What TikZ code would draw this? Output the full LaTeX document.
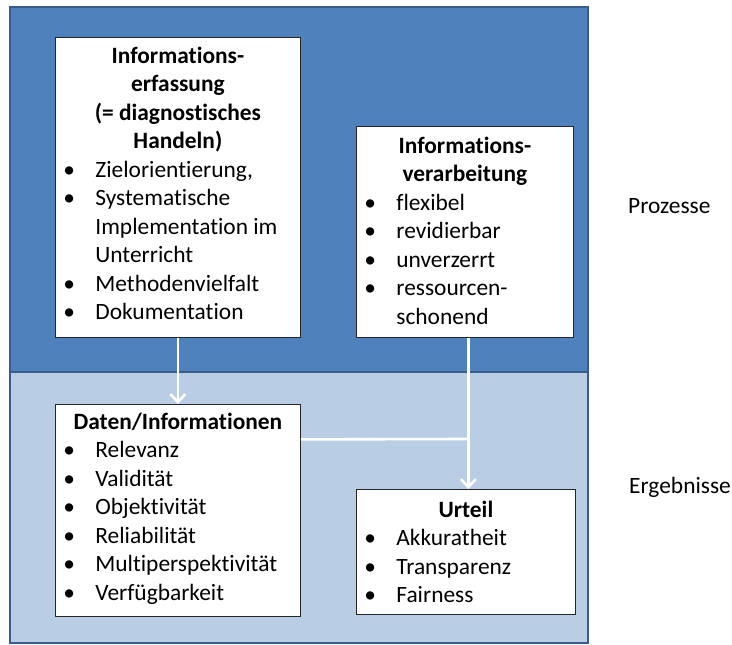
\documentclass[tikz,border=0pt]{standalone}
\usepackage{fontspec}
\setmainfont{Carlito}[Ligatures=NoCommon]
\usetikzlibrary{arrows.meta}
\definecolor{procblue}{HTML}{4F81BD}
\definecolor{resblue}{HTML}{B9CDE5}
\definecolor{frameblue}{HTML}{385D8A}
\newcommand{\bul}[1]{\par\hangindent=40pt\hangafter=1\noindent\hspace*{8pt}\makebox[32pt][l]{\textbullet}#1}
\newcommand{\head}[2]{{\centering\bfseries\rule{0pt}{#1}#2\par}}
\newcommand{\infotext}[3]{\parbox[c][#2][t]{#1}{\raggedright#3}}
\tikzset{
    infobox/.style={draw=black!85, line width=0.8pt, fill=white, inner sep=0pt, anchor=north west},
    flow/.style={white, line width=2.6pt, -{Straight Barb[length=8pt, width=15pt]}},
    flowline/.style={white, line width=2.6pt}
}

\begin{document}
\begin{tikzpicture}[x=1pt, y=-1pt, font=\fontsize{23.4}{28.5}\selectfont]
    \useasboundingbox (0,0) rectangle (732,645);
    \fill[procblue] (10,7) rectangle (588,372);
    \fill[resblue] (10,372) rectangle (588,643);
    \draw[frameblue, line width=1.5pt] (10,7) rectangle (588,372);
    \draw[frameblue, line width=1.5pt] (10,372) rectangle (588,643);
    \node[infobox] (erfassung) at (55,37) {\infotext{245pt}{300pt}{%
        \head{26pt}{Informations-\\erfassung\\(= diagnostisches\\Handeln)}%
        \bul{Zielorientierung,}
        \bul{Systematische\newline Implementation im\newline Unterricht}
        \bul{Methodenvielfalt}
        \bul{Dokumentation}}};
    \node[infobox] (verarbeitung) at (356,126) {\infotext{217pt}{211pt}{%
        \head{27pt}{Informations-\\verarbeitung}%
        \bul{flexibel}
        \bul{revidierbar}
        \bul{unverzerrt}
        \bul{ressourcen-\newline schonend}}};
    \node[infobox] (daten) at (55,404) {\infotext{245pt}{212pt}{%
        \head{25pt}{Daten/Informationen}%
        \bul{Relevanz}
        \bul{Validität}
        \bul{Objektivität}
        \bul{Reliabilität}
        \bul{Multiperspektivität}
        \bul{Verfügbarkeit}}};
    \node[infobox] (urteil) at (356,489) {\infotext{219pt}{125pt}{%
        \head{28pt}{Urteil}%
        \bul{Akkuratheit}
        \bul{Transparenz}
        \bul{Fairness}}};
    \coordinate (merge) at (468,439);
    \draw[flow] (erfassung.south) -- (daten.north);
    \draw[flow] ([xshift=3.5pt]verarbeitung.south) -- ([xshift=2.5pt]urteil.north);
    \draw[flowline] ([yshift=71pt]daten.east) -- (merge);
    \node[anchor=base west, inner sep=0pt] (prozesse) at (628,213) {Prozesse};
    \node[anchor=base west, inner sep=0pt] (ergebnisse) at (629,493) {Ergebnisse};
\end{tikzpicture}
\end{document}
